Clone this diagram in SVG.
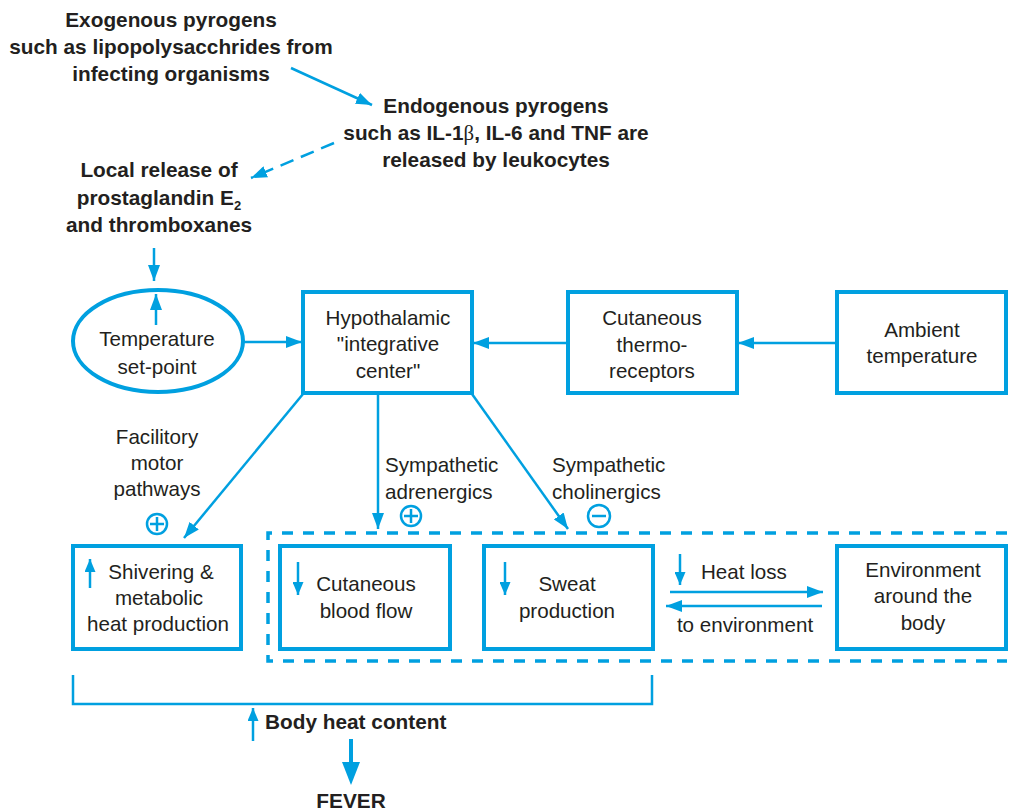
<svg xmlns="http://www.w3.org/2000/svg" width="1011" height="810" viewBox="0 0 1011 810">
<style>
.t{font-family:"Liberation Sans",Arial,sans-serif;font-size:20.6px;fill:#231f20;text-anchor:middle}
.b{font-weight:bold;font-size:20.8px}
.s{text-anchor:start}
.box{fill:#fff;stroke:#00a0e0;stroke-width:4}
.ln{fill:none;stroke:#00a0e0;stroke-width:2.5}
.sign{fill:none;stroke:#00a0e0;stroke-width:2.5}
</style>
<defs>
<marker id="ah" markerUnits="userSpaceOnUse" markerWidth="16" markerHeight="12" refX="16" refY="6" orient="auto">
<path d="M0,0 L16,6 L0,12 z" fill="#00a0e0"/>
</marker>
<marker id="sm" markerUnits="userSpaceOnUse" markerWidth="13" markerHeight="11" refX="13" refY="5.5" orient="auto">
<path d="M0,0 L13,5.5 L0,11 z" fill="#00a0e0"/>
</marker>
</defs>
<rect width="1011" height="810" fill="#fff"/>

<g id="exogenous">
<text class="t b" x="171" y="27">Exogenous pyrogens</text>
<text class="t b" x="171" y="54">such as lipopolysacchrides from</text>
<text class="t b" x="171" y="81">infecting organisms</text>
</g>
<g id="endogenous">
<text class="t b" x="496" y="113">Endogenous pyrogens</text>
<text class="t b" x="496" y="140">such as IL-1<tspan font-family="Liberation Serif,serif" font-weight="normal">β</tspan>, IL-6 and TNF are</text>
<text class="t b" x="496" y="167">released by leukocytes</text>
</g>
<g id="local-release">
<text class="t b" x="159" y="177">Local release of</text>
<text class="t b" x="159" y="205">prostaglandin E<tspan font-size="13" dy="5">2</tspan></text>
<text class="t b" x="159" y="232">and thromboxanes</text>
</g>

<g id="setpoint">
<ellipse cx="158" cy="341" rx="85" ry="51" class="box"/>
<text class="t" x="157" y="346">Temperature</text>
<text class="t" x="157" y="374">set-point</text>
</g>
<g id="hypothalamic">
<rect x="303" y="292" width="169" height="101" class="box"/>
<text class="t" x="388" y="325">Hypothalamic</text>
<text class="t" x="388" y="351">"integrative</text>
<text class="t" x="388" y="378">center"</text>
</g>
<g id="thermoreceptors">
<rect x="568" y="292" width="169" height="101" class="box"/>
<text class="t" x="652" y="325">Cutaneous</text>
<text class="t" x="652" y="352">thermo-</text>
<text class="t" x="652" y="378">receptors</text>
</g>
<g id="ambient">
<rect x="837" y="292" width="169" height="101" class="box"/>
<text class="t" x="922" y="337">Ambient</text>
<text class="t" x="922" y="363">temperature</text>
</g>

<g id="shivering">
<rect x="73" y="546" width="168" height="103" class="box"/>
<text class="t" x="161" y="579">Shivering &amp;</text>
<text class="t" x="159" y="605">metabolic</text>
<text class="t" x="158" y="631">heat production</text>
</g>
<g id="blood-flow">
<rect x="280" y="546" width="170" height="103" class="box"/>
<text class="t" x="366" y="591">Cutaneous</text>
<text class="t" x="366" y="618">blood flow</text>
</g>
<g id="sweat">
<rect x="484" y="546" width="169" height="103" class="box"/>
<text class="t" x="567" y="591">Sweat</text>
<text class="t" x="567" y="618">production</text>
</g>
<g id="environment">
<rect x="837" y="546" width="169" height="103" class="box"/>
<text class="t" x="923" y="577">Environment</text>
<text class="t" x="923" y="603">around the</text>
<text class="t" x="923" y="630">body</text>
</g>

<g id="labels">
<text class="t" x="157" y="444">Facilitory</text>
<text class="t" x="157" y="470">motor</text>
<text class="t" x="157" y="496">pathways</text>
<text class="t s" x="385" y="472">Sympathetic</text>
<text class="t s" x="385" y="499">adrenergics</text>
<text class="t s" x="552" y="472">Sympathetic</text>
<text class="t s" x="552" y="499">cholinergics</text>
<text class="t s" x="701" y="579">Heat loss</text>
<text class="t" x="745" y="632">to environment</text>
<text class="t b s" x="265" y="729">Body heat content</text>
<text class="t b" x="351" y="808">FEVER</text>
<circle cx="157" cy="524" r="10" class="sign"/>
<path d="M150,524 H164 M157,517 V531" class="sign"/>
<circle cx="411" cy="516" r="10" class="sign"/>
<path d="M404,516 H418 M411,509 V523" class="sign"/>
<circle cx="599" cy="516" r="11" class="sign"/>
<path d="M592,516 H606" class="sign"/>
</g>

<g id="connectors">
<path d="M291,68 L372,105" class="ln" marker-end="url(#ah)"/>
<path d="M334,143 L251,178" class="ln" stroke-dasharray="14,8" marker-end="url(#ah)"/>
<path d="M154,248 L154,281" class="ln" marker-end="url(#ah)"/>
<path d="M156,325 L156,294" class="ln" marker-end="url(#ah)"/>
<path d="M244,342 L302,342" class="ln" marker-end="url(#ah)"/>
<path d="M567,343 L473,343" class="ln" marker-end="url(#ah)"/>
<path d="M837,343 L738,343" class="ln" marker-end="url(#ah)"/>
<path d="M303,394 L184,538" class="ln" marker-end="url(#ah)"/>
<path d="M378,394 L378,529" class="ln" marker-end="url(#ah)"/>
<path d="M472,394 L568,529" class="ln" marker-end="url(#ah)"/>
<path d="M670,592 L823,592" class="ln" marker-end="url(#ah)"/>
<path d="M822,606 L666,606" class="ln" marker-end="url(#ah)"/>
<path d="M90,588 L90,559" class="ln" marker-end="url(#sm)"/>
<path d="M298,562 L298,595" class="ln" marker-end="url(#sm)"/>
<path d="M505,562 L505,595" class="ln" marker-end="url(#sm)"/>
<path d="M680,554 L680,585" class="ln" marker-end="url(#sm)"/>
<path d="M1007,533 H268 V661 H1007" fill="none" stroke="#00a0e0" stroke-width="3.5" stroke-dasharray="11,10"/>
<path d="M73,675 V704 H652 V675" class="ln"/>
<path d="M253,741 L253,708" class="ln" marker-end="url(#sm)"/>
<path d="M351,739 V763" stroke="#00a0e0" stroke-width="4" fill="none"/>
<path d="M342,762 L360,762 L351,785 z" fill="#00a0e0"/>
</g>
</svg>
